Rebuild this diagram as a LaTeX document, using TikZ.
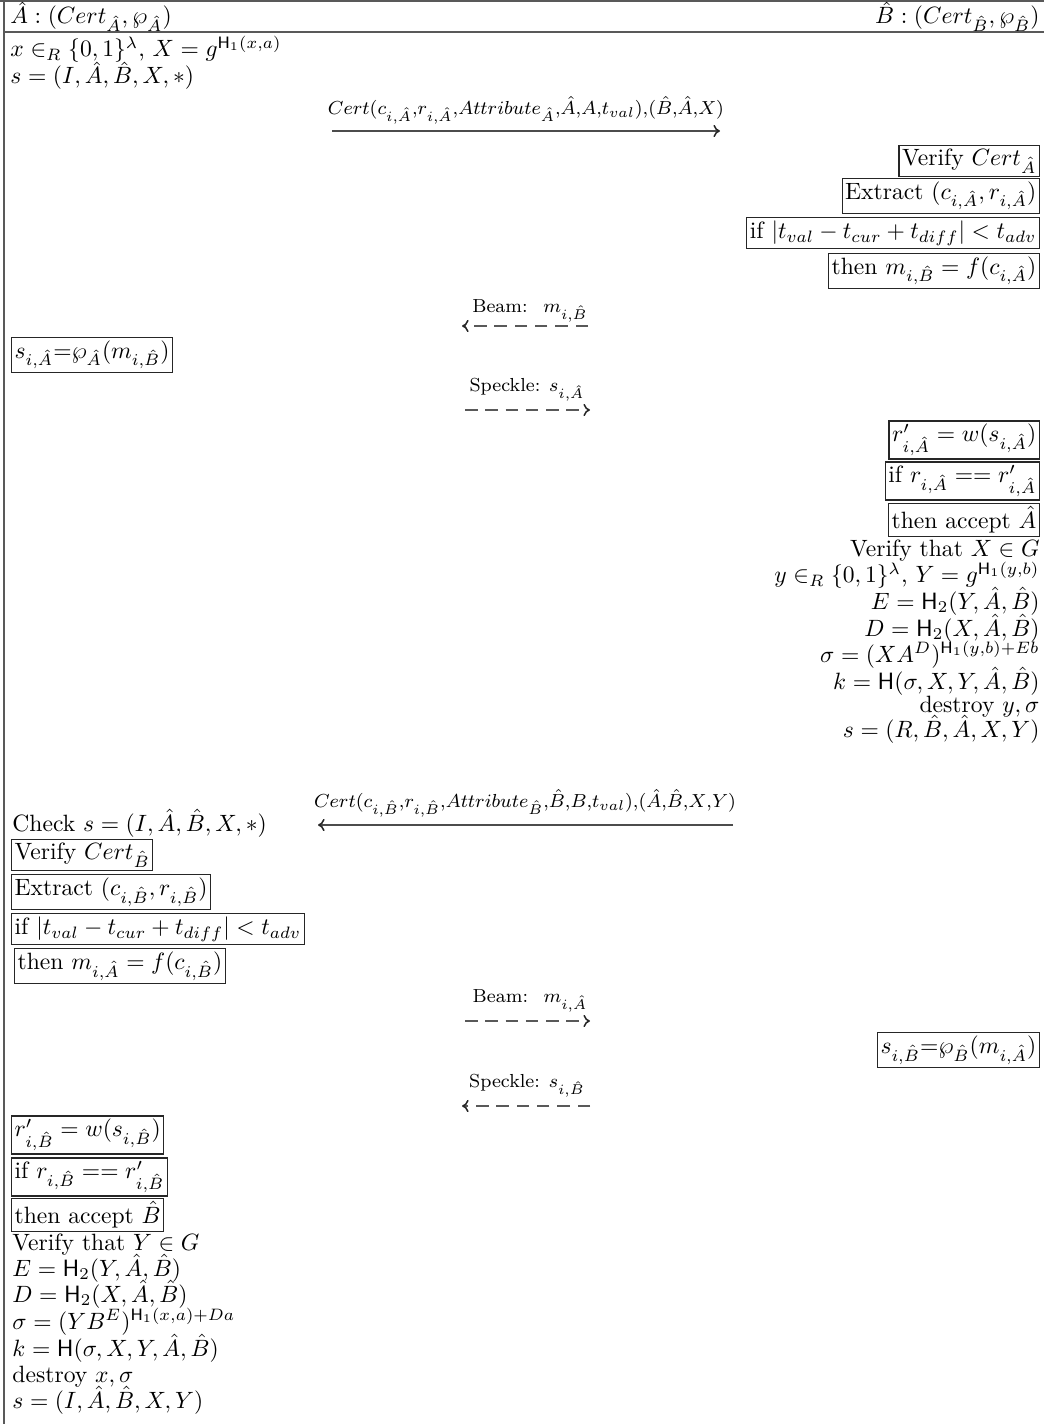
\documentclass[tikz,border=0pt]{standalone}
\usetikzlibrary{arrows.meta}
\begin{document}
\begin{tikzpicture}[x=0.424pt,y=-0.424pt,
  fr/.style={draw=black!65, line width=0.6pt},
  bx/.style={draw=black!85, line width=0.5pt, inner sep=1.3pt},
  txt/.style={inner sep=0pt},
  msg/.style={font=\footnotesize, inner sep=0.5pt},
  tip/.style={-{To[length=2.8pt,width=5.2pt,black!85]}},
  solidmsg/.style={tip, draw=black!70, line width=0.65pt},
  dashmsg/.style={tip, draw=black!65, line width=0.65pt, dash pattern=on 5.3pt off 3.3pt}]
\useasboundingbox (0,0) rectangle (1044,1424);
% frame
\draw[fr] (0,1) -- (1044,1);
\draw[fr] (4,32) -- (1044,32);
\draw[fr] (4,0) -- (4,1424);
% header
\node[txt, anchor=base west] (hA) at (10,24) {$\hat{A}:(Cert_{\hat{A}},\wp_{\hat{A}})$};
\node[txt, anchor=base east] (hB) at (1040,24) {$\hat{B}:(Cert_{\hat{B}},\wp_{\hat{B}})$};
% A initial
\node[txt, anchor=base west] (a1) at (10,57) {$x\in_R\{0,1\}^\lambda$, $X=g^{\mathsf{H}_1(x,a)}$};
\node[txt, anchor=base west] (a2) at (10,84) {$s=(I,\hat{A},\hat{B},X,*)$};
% message 1
\coordinate (m1s) at (332,131);
\coordinate (m1e) at (720,131);
\draw[solidmsg] (m1s) -- (m1e);
\node[msg] (m1l) at (526,110) {$Cert(c_{i,\hat{A}}{,}r_{i,\hat{A}}{,}Attribute_{\hat{A}}{,}\hat{A}{,}A{,}t_{val}){,}(\hat{B}{,}\hat{A}{,}X)$};
% B checks
\node[bx, anchor=east] (b1) at (1040,161) {Verify $Cert_{\hat{A}}$};
\node[bx, anchor=east] (b2) at (1040,196) {Extract $(c_{i,\hat{A}},r_{i,\hat{A}})$};
\node[bx, anchor=east] (b3) at (1040,233) {if $|t_{val}-t_{cur}+t_{diff}|<t_{adv}$};
\node[bx, anchor=east] (b4) at (1040,271) {then $m_{i,\hat{B}}=f(c_{i,\hat{A}})$};
% beam 1
\coordinate (be1s) at (588,326);
\coordinate (be1e) at (462,326);
\draw[dashmsg] (be1s) -- (be1e);
\node[msg] (be1l) at (530,311) {Beam: \ $m_{i,\hat{B}}$};
% A response
\node[bx, anchor=west] (sa) at (11,355) {$s_{i,\hat{A}}$=$\wp_{\hat{A}}(m_{i,\hat{B}})$};
% speckle 1
\coordinate (sp1s) at (465,410);
\coordinate (sp1e) at (590,410);
\draw[dashmsg] (sp1s) -- (sp1e);
\node[msg] (sp1l) at (527,390) {Speckle: $s_{i,\hat{A}}$};
% B verify
\node[bx, anchor=east] (b5) at (1040,440) {$r'_{i,\hat{A}}=w(s_{i,\hat{A}})$};
\node[bx, anchor=east] (b6) at (1040,481) {if $r_{i,\hat{A}}==r'_{i,\hat{A}}$};
\node[bx, anchor=east] (b7) at (1040,520) {then accept $\hat{A}$};
\node[txt, anchor=base east] (c1) at (1040,557) {Verify that $X\in G$};
\node[txt, anchor=base east] (c2) at (1040,583) {$y\in_R\{0,1\}^\lambda$, $Y=g^{\mathsf{H}_1(y,b)}$};
\node[txt, anchor=base east] (c3) at (1040,609) {$E=\mathsf{H}_2(Y,\hat{A},\hat{B})$};
\node[txt, anchor=base east] (c4) at (1040,636) {$D=\mathsf{H}_2(X,\hat{A},\hat{B})$};
\node[txt, anchor=base east] (c5) at (1040,662) {$\sigma=(XA^D)^{\mathsf{H}_1(y,b)+Eb}$};
\node[txt, anchor=base east] (c6) at (1040,689) {$k=\mathsf{H}(\sigma,X,Y,\hat{A},\hat{B})$};
\node[txt, anchor=base east] (c7) at (1040,712) {destroy $y,\sigma$};
\node[txt, anchor=base east] (c8) at (1040,737) {$s=(R,\hat{B},\hat{A},X,Y)$};
% message 2
\coordinate (m2s) at (733,825);
\coordinate (m2e) at (318,825);
\draw[solidmsg] (m2s) -- (m2e);
\node[msg] (m2l) at (525,803) {$Cert(c_{i,\hat{B}}{,}r_{i,\hat{B}}{,}Attribute_{\hat{B}}{,}\hat{B}{,}B{,}t_{val}){,}(\hat{A}{,}\hat{B}{,}X{,}Y)$};
% A checks
\node[txt, anchor=base west] (d0) at (12,831) {Check $s=(I,\hat{A},\hat{B},X,*)$};
\node[bx, anchor=west] (d1) at (11,855) {Verify $Cert_{\hat{B}}$};
\node[bx, anchor=west] (d2) at (11,892) {Extract $(c_{i,\hat{B}},r_{i,\hat{B}})$};
\node[bx, anchor=west] (d3) at (11,929) {if $|t_{val}-t_{cur}+t_{diff}|<t_{adv}$};
\node[bx, anchor=west] (d4) at (14,966) {then $m_{i,\hat{A}}=f(c_{i,\hat{B}})$};
% beam 2
\coordinate (be2s) at (465,1021);
\coordinate (be2e) at (590,1021);
\draw[dashmsg] (be2s) -- (be2e);
\node[msg] (be2l) at (530,1001) {Beam: \ $m_{i,\hat{A}}$};
% B response
\node[bx, anchor=east] (sb) at (1040,1050) {$s_{i,\hat{B}}$=$\wp_{\hat{B}}(m_{i,\hat{A}})$};
% speckle 2
\coordinate (sp2s) at (590,1106);
\coordinate (sp2e) at (462,1106);
\draw[dashmsg] (sp2s) -- (sp2e);
\node[msg] (sp2l) at (527,1086) {Speckle: $s_{i,\hat{B}}$};
% A verify
\node[bx, anchor=west] (d5) at (11,1135) {$r'_{i,\hat{B}}=w(s_{i,\hat{B}})$};
\node[bx, anchor=west] (d6) at (11,1177) {if $r_{i,\hat{B}}==r'_{i,\hat{B}}$};
\node[bx, anchor=west] (d7) at (11,1215) {then accept $\hat{B}$};
\node[txt, anchor=base west] (e1) at (12,1250) {Verify that $Y\in G$};
\node[txt, anchor=base west] (e2) at (12,1276) {$E=\mathsf{H}_2(Y,\hat{A},\hat{B})$};
\node[txt, anchor=base west] (e3) at (12,1302) {$D=\mathsf{H}_2(X,\hat{A},\hat{B})$};
\node[txt, anchor=base west] (e4) at (12,1329) {$\sigma=(YB^E)^{\mathsf{H}_1(x,a)+Da}$};
\node[txt, anchor=base west] (e5) at (12,1356) {$k=\mathsf{H}(\sigma,X,Y,\hat{A},\hat{B})$};
\node[txt, anchor=base west] (e6) at (12,1382) {destroy $x,\sigma$};
\node[txt, anchor=base west] (e7) at (12,1408) {$s=(I,\hat{A},\hat{B},X,Y)$};
\end{tikzpicture}
\end{document}
